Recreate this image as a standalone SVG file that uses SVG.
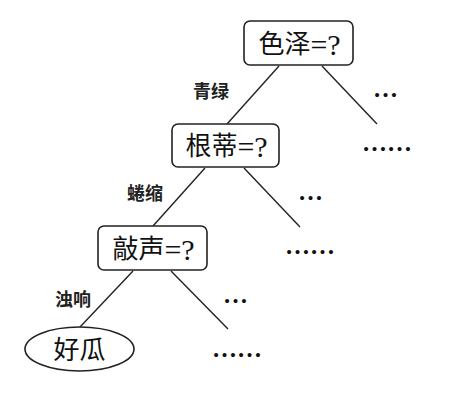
<svg xmlns="http://www.w3.org/2000/svg" width="453" height="406" viewBox="0 0 453 406">
<style>
.box{fill:#fff;stroke:#222;stroke-width:1.6}
.edge{stroke:#222;stroke-width:1.4;fill:none}
.nt{font-family:"Liberation Serif","Noto Sans CJK SC",serif;font-size:26px;fill:#111;text-anchor:middle;dominant-baseline:central}
.q{font-size:30px}
.lb{font-family:"Noto Sans CJK SC",sans-serif;font-size:18px;font-weight:bold;fill:#222;text-anchor:middle;dominant-baseline:central}
.dots{font-family:"Liberation Serif",serif;font-size:25px;font-weight:bold;fill:#111}
</style>
<rect width="453" height="406" fill="#fff"/>
<g id="connectors">
<line class="edge" x1="279" y1="66" x2="227" y2="124"/>
<line class="edge" x1="322" y1="66" x2="377" y2="124"/>
<line class="edge" x1="205" y1="168" x2="153" y2="226"/>
<line class="edge" x1="244" y1="168" x2="300" y2="227"/>
<line class="edge" x1="133" y1="271" x2="80" y2="327"/>
<line class="edge" x1="171" y1="271" x2="228" y2="329"/>
</g>
<g id="n-color">
<rect class="box" x="244" y="21" width="109" height="44" rx="6"/>
<text class="nt" x="299.5" y="44">色泽<tspan class="q">=?</tspan></text>
</g>
<g id="n-root">
<rect class="box" x="172" y="124" width="107" height="43" rx="6"/>
<text class="nt" x="226.5" y="146">根蒂<tspan class="q">=?</tspan></text>
</g>
<g id="n-sound">
<rect class="box" x="98" y="226" width="109" height="44" rx="6"/>
<text class="nt" x="153.5" y="249">敲声<tspan class="q">=?</tspan></text>
</g>
<g id="n-good">
<ellipse class="box" cx="79.5" cy="349" rx="54.5" ry="22"/>
<text class="nt" x="79.5" y="350">好瓜</text>
</g>
<g id="labels">
<text class="lb" x="211" y="90">青绿</text>
<text class="lb" x="145" y="192">蜷缩</text>
<text class="lb" x="73" y="298">浊响</text>
</g>
<g id="ellipses">
<text class="dots" x="373" y="97">…</text>
<text class="dots" x="362" y="151">……</text>
<text class="dots" x="298" y="200">…</text>
<text class="dots" x="285" y="254">……</text>
<text class="dots" x="223" y="303">…</text>
<text class="dots" x="212" y="357">……</text>
</g>
</svg>
